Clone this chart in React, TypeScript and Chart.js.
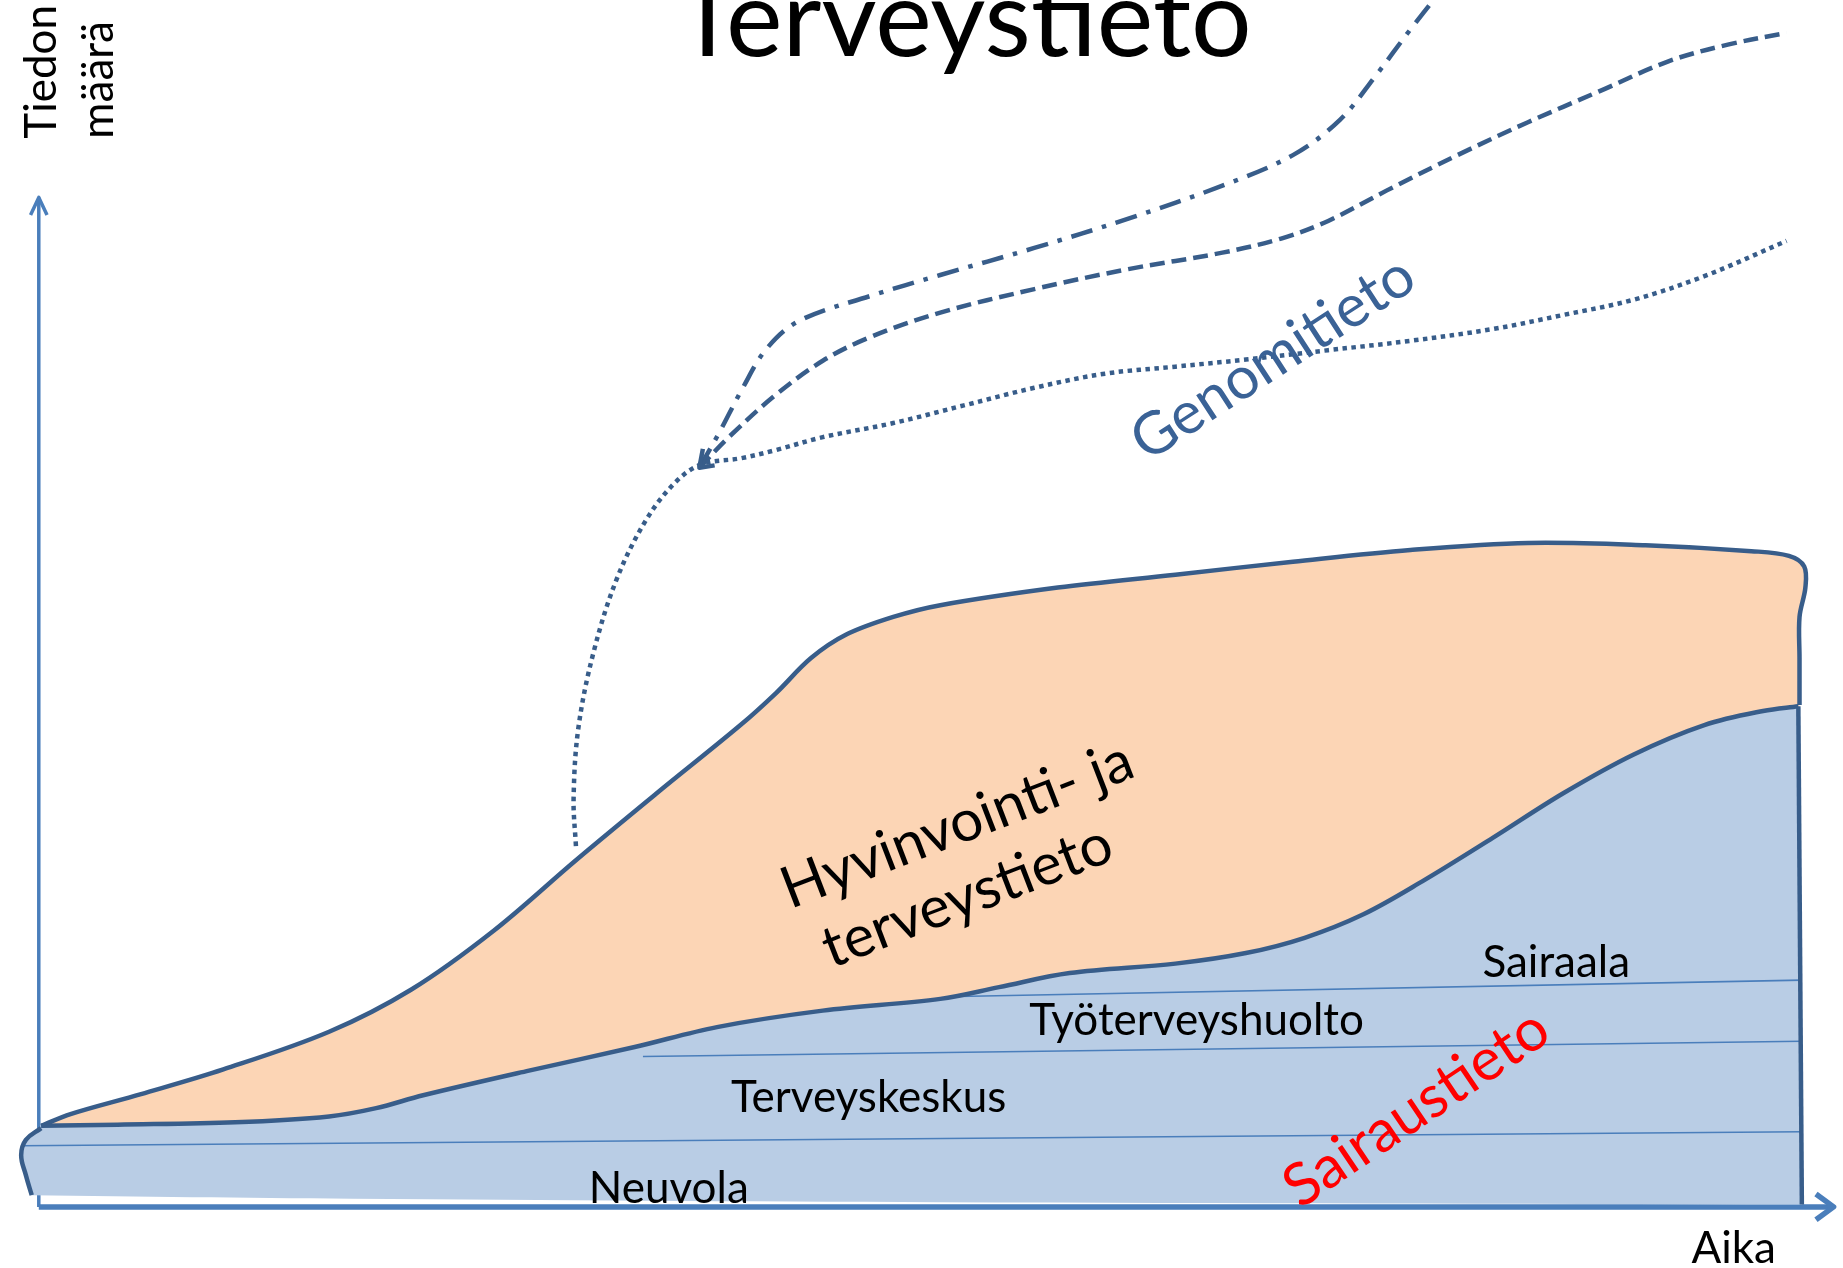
import React, { useEffect, useRef } from 'react';
import { Chart, registerables } from 'chart.js';

Chart.register(...registerables);

// Units: x = time (Aika) from the origin, y = amount of information (Tiedon määrä)
const hyvinvointiTop = [
  [2, 69], [27, 79], [87, 96], [157, 117], [247, 149], [317, 185], [387, 235], [457, 295],
  [527, 353], [597, 410], [627, 437], [657, 467], [687, 487], [727, 502], [767, 512],
  [867, 527], [967, 538], [1067, 549], [1167, 559], [1267, 565], [1367, 563], [1457, 558],
  [1489, 554], [1502, 545], [1503, 527], [1498, 502], [1498, 467], [1498, 427],
];
const sairausTop = [
  [2, 69], [67, 70], [167, 72], [247, 77], [287, 84], [327, 95], [417, 116], [507, 136],
  [577, 153], [667, 167], [767, 177], [817, 187], [877, 199], [967, 207], [1027, 216],
  [1077, 229], [1127, 249], [1177, 277], [1237, 314], [1297, 352], [1357, 385], [1417, 410],
  [1467, 422], [1497, 426],
];
const sairausRight = [[1497, 426], [1500, 2]];
const sairausBottom = [[1500, 2], [767, 4], [267, 7], [-6, 10]];
const sairausLeft = [[-6, 10], [-11, 27], [-15, 44], [-11, 57], [2, 67]];

const neuvolaLine = [[-15, 52], [1500, 64]];
const terveyskeskusLine = [[514, 128], [1500, 141]];
const tyoterveysLine = [[782, 179], [1500, 193]];

const genomiDotted = [
  [457, 307], [455, 347], [459, 407], [472, 472], [492, 535], [517, 585], [542, 617],
  [564, 632], [597, 637], [627, 644], [667, 655], [727, 667], [787, 682], [847, 697],
  [907, 709], [967, 715], [1027, 721], [1097, 729], [1167, 737], [1237, 747], [1297, 759],
  [1357, 772], [1417, 792], [1487, 822],
];
const dashedGrowth = [
  [562, 629], [587, 655], [627, 691], [667, 720], [707, 740], [767, 761], [847, 781],
  [927, 798], [1007, 812], [1057, 824], [1097, 839], [1147, 865], [1207, 895], [1267, 923],
  [1327, 949], [1387, 975], [1437, 989], [1487, 999],
];
const dashDotGrowth = [
  [562, 629], [579, 659], [599, 697], [619, 730], [647, 754], [707, 775], [767, 793],
  [847, 816], [927, 841], [1007, 869], [1067, 895], [1107, 925], [1137, 962], [1167, 1002],
  [1189, 1030],
];
const junctionArrow = [[565, 645], [562, 629], [575, 631]];

const yAxisLine = [[0, 0], [0, 859]];
const yAxisHead = [[-7, 844], [0, 859], [7, 844]];
const xAxisLine = [[0, 0], [1527, 0]];
const xAxisHead = [[1512, 11], [1527, 0], [1512, -11]];

const texts = [
  { lines: ['Terveystieto'], x: 787, y: 979, size: 107, color: '#000000', rot: 0 },
  { lines: ['Tiedon'], x: 15, y: 909, size: 44, color: '#000000', rot: -90, align: 'left' },
  { lines: ['määrä'], x: 63, y: 909, size: 44, color: '#000000', rot: -90, align: 'left' },
  { lines: ['Aika'], x: 1442, y: -48, size: 44, color: '#000000', rot: 0 },
  { lines: ['Neuvola'], x: 536, y: 3, size: 44, color: '#000000', rot: 0 },
  { lines: ['Terveyskeskus'], x: 706, y: 81, size: 44, color: '#000000', rot: 0 },
  { lines: ['Työterveyshuolto'], x: 985, y: 146, size: 44, color: '#000000', rot: 0 },
  { lines: ['Sairaala'], x: 1291, y: 196, size: 44, color: '#000000', rot: 0 },
  { lines: ['Sairaustieto'], x: 1172, y: 84, size: 59, color: '#FF0000', rot: -34, baseline: 'middle' },
  { lines: ['Genomitieto'], x: 1050, y: 722, size: 59, color: '#3A6296', rot: -33, baseline: 'middle' },
  { lines: ['Hyvinvointi- ja', 'terveystieto'], x: 792, y: 297, size: 58, color: '#000000', rot: -21, baseline: 'middle', lineHeight: 70, lineShift: [0, -16] },
];

const pts = (a: number[][]) => a.map(([x, y]) => ({ x, y }));

const OUTLINE = '#385D8A';
const AXIS = '#4A7EBB';

const textPlugin = {
  id: 'diagramTexts',
  afterDraw(chart: any) {
    const { ctx, scales } = chart;
    for (const t of texts as any[]) {
      ctx.save();
      ctx.translate(scales.x.getPixelForValue(t.x), scales.y.getPixelForValue(t.y));
      ctx.rotate((t.rot * Math.PI) / 180);
      ctx.font = `${t.size}px Lato`;
      ctx.fillStyle = t.color;
      ctx.textAlign = t.align || 'center';
      ctx.textBaseline = t.baseline || 'alphabetic';
      const lh = t.lineHeight || t.size * 1.2;
      const n = t.lines.length;
      t.lines.forEach((line: string, i: number) => {
        const dx = t.lineShift ? t.lineShift[i] : 0;
        ctx.fillText(line, dx, (i - (n - 1) / 2) * lh);
      });
      ctx.restore();
    }
  },
};

export default function App() {
  const ref = useRef<HTMLCanvasElement | null>(null);

  useEffect(() => {
    if (!ref.current) return;
    const line = (data: number[][], extra: any) => ({
      data: pts(data),
      pointRadius: 0,
      pointHoverRadius: 0,
      fill: false,
      clip: false,
      tension: 0,
      borderJoinStyle: 'round',
      ...extra,
    });

    // Repeating a corner point keeps the smoothed outline sharp at that corner.
    const orangeShape = [...hyvinvointiTop, ...sairausTop.slice().reverse()];
    const blueShape = [
      ...sairausTop,
      sairausRight[0],
      sairausRight[1],
      ...sairausBottom,
      ...sairausLeft,
    ];

    const list = [
      line(yAxisLine, { borderColor: AXIS, borderWidth: 3.5 }),
      line(yAxisHead, { borderColor: AXIS, borderWidth: 3.5 }),
      line(xAxisLine, { borderColor: AXIS, borderWidth: 5.5 }),
      line(xAxisHead, { borderColor: AXIS, borderWidth: 5.5 }),
      line(orangeShape, { borderColor: 'transparent', borderWidth: 0, backgroundColor: '#FCD5B5', fill: 'shape', tension: 0.35 }),
      line(blueShape, { borderColor: 'transparent', borderWidth: 0, backgroundColor: '#B9CDE5', fill: 'shape', tension: 0.35 }),
      line(neuvolaLine, { borderColor: AXIS, borderWidth: 1.6 }),
      line(terveyskeskusLine, { borderColor: AXIS, borderWidth: 1.6 }),
      line(tyoterveysLine, { borderColor: AXIS, borderWidth: 1.6 }),
      line(hyvinvointiTop, { borderColor: OUTLINE, borderWidth: 4.5, tension: 0.35 }),
      line(sairausTop, { borderColor: OUTLINE, borderWidth: 4.5, tension: 0.35 }),
      line(sairausRight, { borderColor: OUTLINE, borderWidth: 4.5 }),
      line(sairausLeft, { borderColor: OUTLINE, borderWidth: 4.5, tension: 0.4 }),
      line(genomiDotted, { borderColor: OUTLINE, borderWidth: 4.5, borderDash: [4.5, 4.5], tension: 0.35 }),
      line(dashedGrowth, { borderColor: OUTLINE, borderWidth: 4.5, borderDash: [15, 7], tension: 0.35 }),
      line(dashDotGrowth, { borderColor: OUTLINE, borderWidth: 4.5, borderDash: [22, 10, 4.5, 10], tension: 0.35 }),
      line(junctionArrow, { borderColor: OUTLINE, borderWidth: 4.5 }),
    ];
    const datasets = list.map((d, i) => ({ ...d, order: list.length - i }));

    const chart = new Chart(ref.current, {
      type: 'line',
      data: { datasets },
      plugins: [textPlugin],
      options: {
        responsive: false,
        maintainAspectRatio: false,
        devicePixelRatio: 1,
        animation: false,
        layout: { padding: 0 },
        events: [],
        scales: {
          x: { type: 'linear', display: false, min: -33, max: 1535 },
          y: { type: 'linear', display: false, min: -52, max: 1027 },
        },
        plugins: {
          legend: { display: false },
          tooltip: { enabled: false },
          filler: { drawTime: 'beforeDatasetDraw' },
        },
      } as any,
    });
    return () => chart.destroy();
  }, []);

  return (
    <canvas
      ref={ref}
      width={1843}
      height={1268}
      style={{ position: 'fixed', left: 0, top: 0, width: 1843, height: 1268, background: '#ffffff' }}
    />
  );
}
